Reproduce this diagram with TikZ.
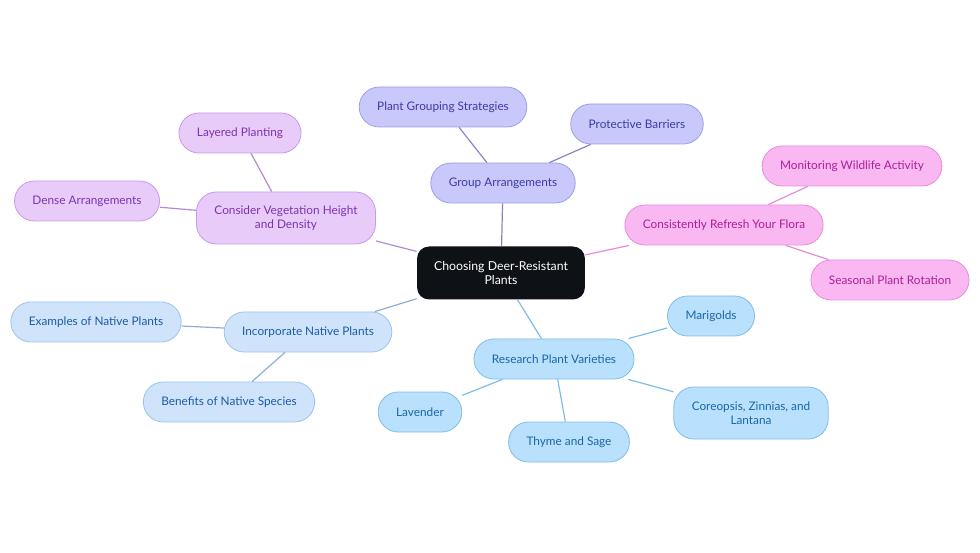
\documentclass[tikz,border=0pt]{standalone}
\usepackage{fontspec}
\setmainfont{Lato}
\usetikzlibrary{positioning}

\definecolor{rootfill}{HTML}{0E1116}
\definecolor{grpfill}{HTML}{C8C9FA}
\definecolor{grpline}{HTML}{9C9EE6}
\definecolor{grptext}{HTML}{3B3CA2}
\definecolor{vegfill}{HTML}{E9CBFA}
\definecolor{vegline}{HTML}{C59BE6}
\definecolor{vegtext}{HTML}{7B33AE}
\definecolor{flofill}{HTML}{F9B8F1}
\definecolor{floline}{HTML}{E68BDC}
\definecolor{flotext}{HTML}{AE1E98}
\definecolor{natfill}{HTML}{CFE4FA}
\definecolor{natline}{HTML}{9CC2EA}
\definecolor{nattext}{HTML}{1C5BA6}
\definecolor{resfill}{HTML}{B9E0FC}
\definecolor{resline}{HTML}{80BDE6}
\definecolor{restext}{HTML}{1A67A6}

\begin{document}
\begin{tikzpicture}[x=1pt, y=-1pt,
  leaf/.style={rounded corners=20pt, minimum height=40pt, inner xsep=18pt,
    align=center, font=\fontsize{11.8}{13.5}\selectfont, line width=0.8pt},
  grp/.style={leaf, fill=grpfill, draw=grpline, text=grptext},
  veg/.style={leaf, fill=vegfill, draw=vegline, text=vegtext},
  flo/.style={leaf, fill=flofill, draw=floline, text=flotext},
  nat/.style={leaf, fill=natfill, draw=natline, text=nattext},
  res/.style={leaf, fill=resfill, draw=resline, text=restext},
  link/.style={line width=1.2pt}]
\useasboundingbox (0,0) rectangle (980,553);

\node[leaf, fill=rootfill, text=white, rounded corners=12pt, minimum height=53pt, inner xsep=17pt, font=\fontsize{12.3}{13.8}\selectfont] (root) at (501,273) {Choosing Deer-Resistant\\Plants};

% group arrangements
\node[grp] (group) at (503,183) {Group Arrangements};
\node[grp] (strat) at (443,107) {Plant Grouping Strategies};
\node[grp] (barrier) at (637,124) {Protective Barriers};

% vegetation
\node[veg, minimum height=52pt] (height) at (286,218) {Consider Vegetation Height\\and Density};
\node[veg] (layer) at (240,133) {Layered Planting};
\node[veg] (dense) at (87,201) {Dense Arrangements};

% flora
\node[flo] (refresh) at (724,225) {Consistently Refresh Your Flora};
\node[flo] (monitor) at (852,166) {Monitoring Wildlife Activity};
\node[flo] (season) at (890,280) {Seasonal Plant Rotation};

% native plants
\node[nat] (native) at (308,332) {Incorporate Native Plants};
\node[nat] (examples) at (96,322) {Examples of Native Plants};
\node[nat] (benefit) at (229,402) {Benefits of Native Species};

% varieties
\node[res] (variety) at (554,359) {Research Plant Varieties};
\node[res] (marigold) at (711,316) {Marigolds};
\node[res] (lavender) at (420,412) {Lavender};
\node[res] (thyme) at (569,442) {Thyme and Sage};
\node[res, minimum height=52pt] (coreop) at (751,413) {Coreopsis, Zinnias, and\\Lantana};

\draw[link, draw=grpline!85!black] (root)--(group);
\draw[link, draw=grpline!85!black] (group)--(strat);
\draw[link, draw=grpline!85!black] (group)--(barrier);
\draw[link, draw=vegline!90!black] (root)--(height);
\draw[link, draw=vegline!90!black] (height)--(layer);
\draw[link, draw=vegline!90!black] (height)--(dense);
\draw[link, draw=floline] (root)--(refresh);
\draw[link, draw=floline] (refresh)--(monitor);
\draw[link, draw=floline] (refresh)--(season);
\draw[link, draw=natline!90!black] (root)--(native);
\draw[link, draw=natline!90!black] (native)--(examples);
\draw[link, draw=natline!90!black] (native)--(benefit);
\draw[link, draw=resline] (root)--(variety);
\draw[link, draw=resline] (variety)--(marigold);
\draw[link, draw=resline] (variety)--(lavender);
\draw[link, draw=resline] (variety)--(thyme);
\draw[link, draw=resline] (variety)--(coreop);

\end{tikzpicture}
\end{document}
